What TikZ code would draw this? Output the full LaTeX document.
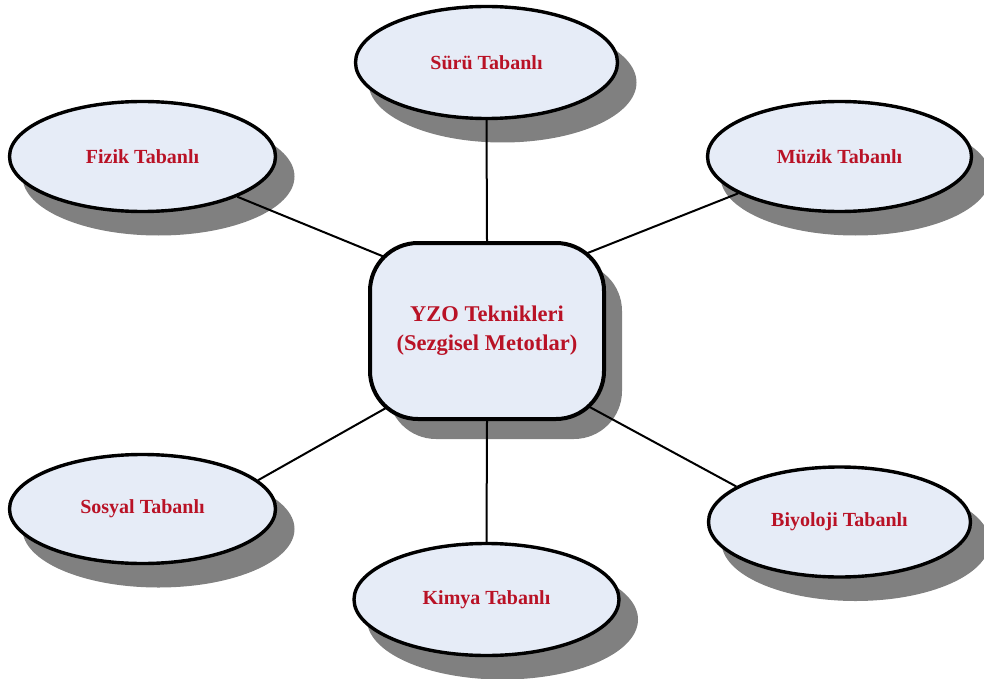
\documentclass[tikz,border=0pt]{standalone}
\usepackage{fontspec}
\setmainfont{Liberation Serif}
\usetikzlibrary{shapes.geometric,calc}

\pgfdeclarelayer{shadowlayer}
\pgfdeclarelayer{linklayer}
\pgfsetlayers{shadowlayer,linklayer,main}

\definecolor{labelred}{RGB}{185,18,38}
\definecolor{bubblefill}{RGB}{230,236,247}
\definecolor{shadegray}{RGB}{128,128,128}

\tikzset{
  bubble/.style={ellipse, draw=black, line width=3.4pt, fill=bubblefill,
    inner sep=0pt, text=labelred,
    font=\fontsize{20}{24}\selectfont\bfseries},
  bubbleshade/.style={ellipse, fill=shadegray, draw=none, inner sep=0pt},
  hub/.style={rectangle, rounded corners=48pt, draw=black, line width=4pt,
    fill=bubblefill, text=labelred, align=center, inner sep=0pt,
    font=\fontsize{22.5}{29}\selectfont\bfseries},
  hubshade/.style={rectangle, rounded corners=48pt, fill=shadegray,
    draw=none, inner sep=0pt},
  link/.style={line width=2pt, draw=black},
}

% \placebubble{name}{x}{y}{width}{height}{label}
\newcommand{\placebubble}[6]{%
  \node[bubble, minimum width=#4pt, minimum height=#5pt] (#1) at (#2,#3) {#6};
  \begin{pgfonlayer}{shadowlayer}
    \node[bubbleshade, minimum width=#4pt+6pt, minimum height=#5pt+8pt]
      (#1-shade) at ([shift={(16,20)}]#1.center) {};
  \end{pgfonlayer}}

\begin{document}
\begin{tikzpicture}[x=1pt,y=-1pt]
  \useasboundingbox (0,0) rectangle (984,679);

  % central box
  \node[hub, minimum width=234pt, minimum height=176pt] (hub) at (487,331)
    {YZO Teknikleri\\(Sezgisel Metotlar)};
  \begin{pgfonlayer}{shadowlayer}
    \node[hubshade, minimum width=234pt, minimum height=176pt] (hub-shade)
      at ([shift={(18,20)}]hub.center) {};
  \end{pgfonlayer}

  % surrounding categories
  \placebubble{suru}{486.5}{62.5}{262}{112}{Sürü Tabanlı}
  \placebubble{fizik}{142.5}{156.5}{266}{110}{Fizik Tabanlı}
  \placebubble{muzik}{839.5}{156.5}{264}{110}{Müzik Tabanlı}
  \placebubble{sosyal}{142.5}{509}{266}{109}{Sosyal Tabanlı}
  \placebubble{biyoloji}{839.5}{522}{262}{110}{Biyoloji Tabanlı}
  \placebubble{kimya}{486.5}{599.5}{265}{112}{Kimya Tabanlı}

  % anchor points inside the box where the spokes end
  \coordinate (hubNW) at ($(hub.center)+(-64.5,-58.5)$);
  \coordinate (hubNE) at ($(hub.center)+(61.5,-62.5)$);
  \coordinate (hubSW) at ($(hub.center)+(-66.5,57.5)$);
  \coordinate (hubSE) at ($(hub.center)+(68.5,57.5)$);

  % spokes
  \begin{pgfonlayer}{linklayer}
    \draw[link] (suru.south) -- (hub.north);
    \draw[link] (kimya.north) -- (hub.south);
    \draw[link] (fizik.-23) -- (hubNW);
    \draw[link] (muzik.-160) -- (hubNE);
    \draw[link] (sosyal.14) -- (hubSW);
    \draw[link] (biyoloji.161) -- (hubSE);
  \end{pgfonlayer}
\end{tikzpicture}
\end{document}
